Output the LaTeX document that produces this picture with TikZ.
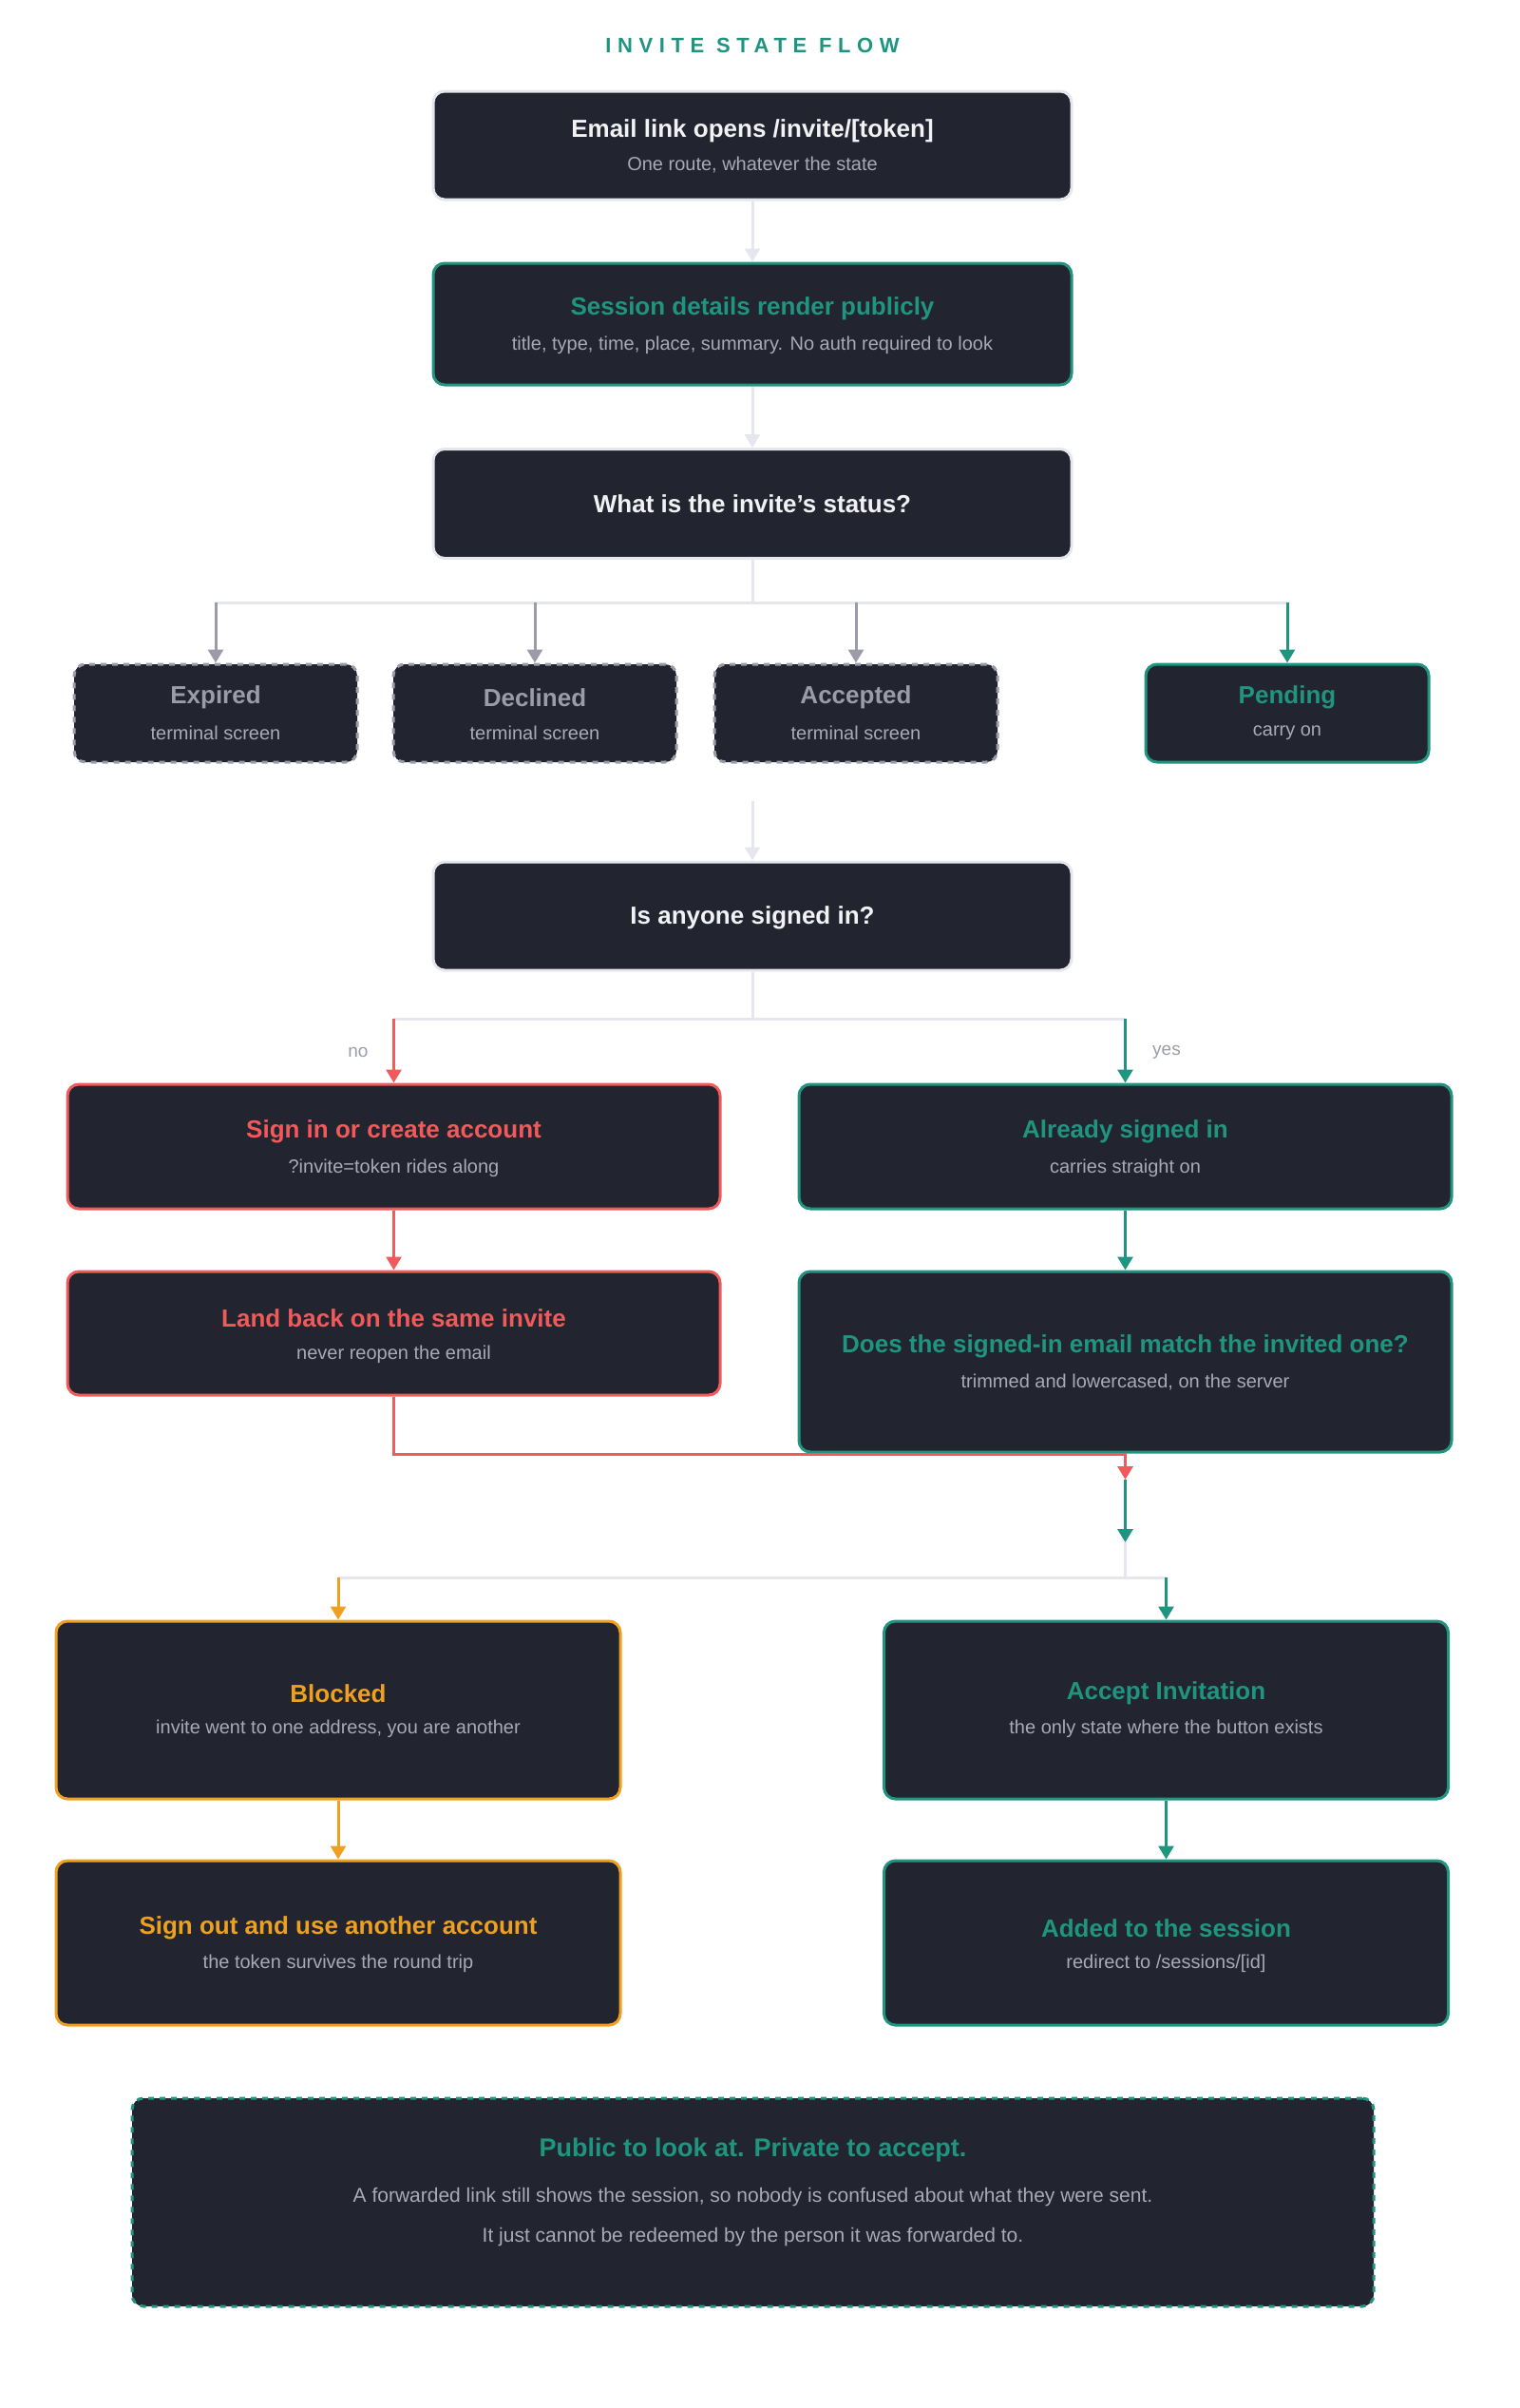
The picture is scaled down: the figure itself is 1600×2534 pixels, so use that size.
\documentclass[tikz,border=0pt]{standalone}
\usepackage{fontspec}
\setmainfont{Liberation Sans}
\usetikzlibrary{arrows.meta}
\definecolor{boxbg}{HTML}{22252F}
\definecolor{teal}{HTML}{1F9580}
\definecolor{redc}{HTML}{F05A5A}
\definecolor{orng}{HTML}{F0A020}
\definecolor{tgray}{HTML}{9A9CA8}
\definecolor{sub}{HTML}{A8ABB5}
\definecolor{lgray}{HTML}{E6E7EE}
\definecolor{wt}{HTML}{F2F2F5}
\begin{document}
\begin{tikzpicture}[x=0.5pt,y=-0.5pt,
 box/.style={draw, rounded corners=6pt, fill=boxbg, line width=1.5pt, inner sep=0pt},
 ttl/.style={font=\fontsize{13}{15}\selectfont\bfseries},
 sb/.style={font=\fontsize{10}{12}\selectfont, text=sub},
 ln/.style={line width=1.5pt},
 arr/.style={line width=1.5pt, -{Triangle[width=8pt,length=7pt]}}]
\useasboundingbox (0,0) rectangle (1600,2534);
\node[font=\fontsize{11}{13}\selectfont\bfseries\addfontfeature{LetterSpace=30}, text=teal] (title) at (792,48) {INVITE STATE FLOW};
% top chain
\node[box, draw=lgray, minimum width=336pt, minimum height=57pt] (b1) at (792,153) {};
\node[ttl, text=wt] (b1t) at (792,138) {Email link opens /invite/[token]};
\node[sb] (b1s) at (792,174) {One route, whatever the state};
\node[box, draw=teal, minimum width=336pt, minimum height=64pt] (b2) at (792,341) {};
\node[ttl, text=teal] (b2t) at (792,325) {Session details render publicly};
\node[sb] (b2s) at (792,363) {title, type, time, place, summary. No auth required to look};
\node[box, draw=lgray, minimum width=336pt, minimum height=57.5pt] (b3) at (792,530) {};
\node[ttl, text=wt] (b3t) at (792,530) {What is the invite's status?};
\draw[arr, lgray] (b1) -- (b2);
\draw[arr, lgray] (b2) -- (b3);
% status boxes
\foreach \n/\x/\t in {ex/227/Expired, de/563/Declined, ac/901/Accepted}{
 \node[box, draw=tgray, dashed, minimum width=149pt, minimum height=51.5pt] (\n) at (\x,750.5) {};
 \node[ttl, text=tgray] (\n t) at (\x,734) {\t};
 \node[sb] (\n s) at (\x,771) {terminal screen};
}
\node[box, draw=teal, minimum width=149pt, minimum height=51.5pt] (pe) at (1355,750.5) {};
\node[ttl, text=teal] (pet) at (1355,734) {Pending};
\node[sb] (pes) at (1355,771) {carry on};
\coordinate (j1) at (792,634);
\draw[ln, lgray] (b3) -- (j1);
\draw[ln, lgray] (227,634) -- (1355,634);
\draw[arr, tgray] (227,634) -- (ex);
\draw[arr, tgray] (563,634) -- (de);
\draw[arr, tgray] (901,634) -- (ac);
\draw[arr, teal] (1355,634) -- (pe);
% signed in?
\node[box, draw=lgray, minimum width=336pt, minimum height=57pt] (b4) at (792,964) {};
\node[ttl, text=wt] (b4t) at (792,966) {Is anyone signed in?};
\coordinate (c4) at (792,843);
\draw[arr, lgray] (c4) -- (b4);
\coordinate (j2) at (792,1072);
\draw[ln, lgray] (b4) -- (j2);
\draw[ln, lgray] (415,1072) -- (1184,1072);
\node[box, draw=redc, minimum width=343.5pt, minimum height=65.5pt] (si) at (414.5,1206.5) {};
\node[ttl, text=redc] (sit) at (414.5,1191) {Sign in or create account};
\node[sb] (sis) at (414.5,1229) {?invite=token rides along};
\node[box, draw=teal, minimum width=343.5pt, minimum height=65.5pt] (al) at (1184.5,1206.5) {};
\node[ttl, text=teal] (alt) at (1184.5,1191) {Already signed in};
\node[sb] (als) at (1184.5,1229) {carries straight on};
\draw[arr, redc] (414.5,1072) -- (si);
\draw[arr, teal] (1184.5,1072) -- (al);
\node[font=\fontsize{9.5}{11}\selectfont, text=tgray] (no) at (377,1107) {no};
\node[font=\fontsize{9.5}{11}\selectfont, text=tgray] (yes) at (1228,1107) {yes};
\node[box, draw=redc, minimum width=343.5pt, minimum height=65pt] (lb) at (414.5,1403) {};
\node[ttl, text=redc] (lbt) at (414.5,1387) {Land back on the same invite};
\node[sb] (lbs) at (414.5,1425) {never reopen the email};
\node[box, draw=teal, minimum width=343.5pt, minimum height=95pt] (dm) at (1184.5,1433) {};
\node[ttl, text=teal] (dmt) at (1184.5,1417) {Does the signed-in email match the invited one?};
\node[sb] (dms) at (1184.5,1455) {trimmed and lowercased, on the server};
\draw[arr, redc] (si) -- (lb);
\draw[arr, teal] (al) -- (dm);
\coordinate (rj) at (1184.5,1557);
\draw[arr, redc] (lb.south) |- (1184.5,1530) -- (rj);
\coordinate (tj) at (1184.5,1623);
\draw[arr, teal] (rj) -- (tj);
\coordinate (j3) at (1184.5,1660);
\draw[ln, lgray] (tj) -- (j3);
\draw[ln, lgray] (356,1660) -- (1227.5,1660);
% outcome
\node[box, draw=orng, minimum width=297pt, minimum height=93.5pt] (bl) at (356,1799.5) {};
\node[ttl, text=orng] (blt) at (356,1782) {Blocked};
\node[sb] (bls) at (356,1819) {invite went to one address, you are another};
\node[box, draw=teal, minimum width=297pt, minimum height=93.5pt] (ai) at (1227.5,1799.5) {};
\node[ttl, text=teal] (ait) at (1227.5,1782) {Accept Invitation};
\node[sb] (ais) at (1227.5,1819) {the only state where the button exists};
\draw[arr, orng] (356,1660) -- (bl);
\draw[arr, teal] (1227.5,1660) -- (ai);
\node[box, draw=orng, minimum width=297pt, minimum height=86.5pt] (so) at (356,2044.5) {};
\node[ttl, text=orng] (sot) at (356,2029) {Sign out and use another account};
\node[sb] (sos) at (356,2066) {the token survives the round trip};
\node[box, draw=teal, minimum width=297pt, minimum height=86.5pt] (ad) at (1227.5,2044.5) {};
\node[ttl, text=teal] (adt) at (1227.5,2029) {Added to the session};
\node[sb] (ads) at (1227.5,2066) {redirect to /sessions/[id]};
\draw[arr, orng] (bl) -- (so);
\draw[arr, teal] (ai) -- (ad);
% bottom note
\node[box, draw=teal, dashed, minimum width=653.5pt, minimum height=109.5pt] (nt) at (792.5,2317.5) {};
\node[font=\fontsize{13.5}{16}\selectfont\bfseries, text=teal] (ntt) at (792.5,2262) {Public to look at. Private to accept.};
\node[font=\fontsize{10.5}{12}\selectfont, text=sub] (nt1) at (792.5,2312) {A forwarded link still shows the session, so nobody is confused about what they were sent.};
\node[font=\fontsize{10.5}{12}\selectfont, text=sub] (nt2) at (792.5,2354) {It just cannot be redeemed by the person it was forwarded to.};
\end{tikzpicture}
\end{document}
